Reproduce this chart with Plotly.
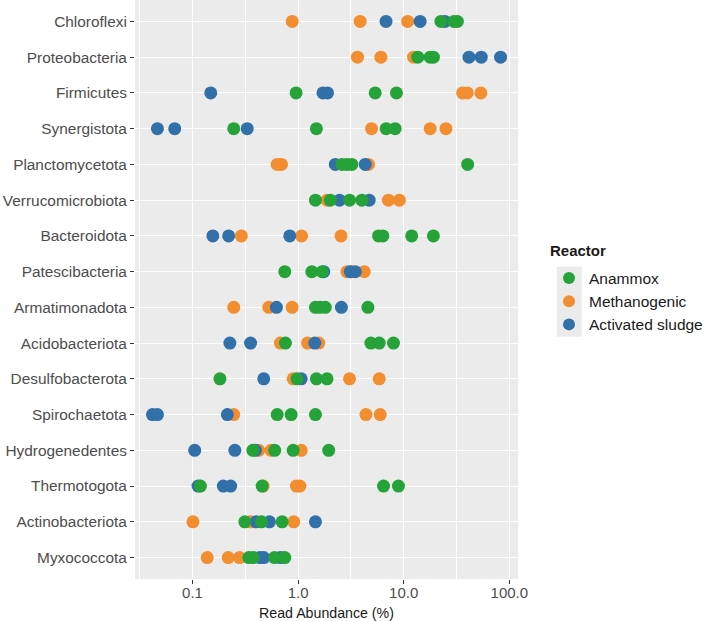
import plotly.graph_objects as go

phyla = ["Chloroflexi", "Proteobacteria", "Firmicutes", "Synergistota",
         "Planctomycetota", "Verrucomicrobiota", "Bacteroidota", "Patescibacteria",
         "Armatimonadota", "Acidobacteriota", "Desulfobacterota", "Spirochaetota",
         "Hydrogenedentes", "Thermotogota", "Actinobacteriota", "Myxococcota"]

anammox = [
    [22.5, 29.9, 32.2],
    [13.6, 17.8, 19.1],
    [0.957, 5.37, 8.54],
    [0.246, 1.49, 6.82, 8.30],
    [2.60, 2.90, 3.23, 40.3],
    [1.46, 2.02, 3.07, 4.02],
    [5.77, 6.35, 11.9, 19.1],
    [0.748, 1.35, 1.69],
    [1.46, 1.62, 1.81, 4.58],
    [0.759, 4.89, 5.86, 8.00],
    [0.182, 0.978, 1.49, 1.88],
    [0.634, 0.859, 1.46],
    [0.373, 0.601, 0.898, 1.95],
    [0.119, 0.457, 6.44, 8.91],
    [0.313, 0.450, 0.706],
    [0.342, 0.376, 0.598, 0.748],
]

methanogenic = [
    [0.88, 3.87, 10.9],
    [3.65, 6.08, 12.4],
    [36.1, 40.0, 53.8],
    [4.96, 17.8, 25.1],
    [0.634, 0.696, 4.64],
    [1.88, 7.16, 9.10],
    [0.290, 1.08, 2.55],
    [2.90, 3.2, 4.23],
    [0.246, 0.528, 0.878],
    [0.680, 1.23, 1.57],
    [0.898, 3.07, 5.86],
    [0.246, 4.39, 5.99],
    [0.424, 0.556, 1.07],
    [0.467, 0.964, 1.04],
    [0.101, 0.355, 0.910],
    [0.138, 0.218, 0.279],
]

activated = [
    [6.8, 14.3, 24.6],
    [41.5, 54.2, 82.6],
    [0.149, 1.72, 1.90],
    [0.0466, 0.0679, 0.330],
    [2.25, 4.32],
    [2.47, 4.71],
    [0.156, 0.220, 0.834],
    [1.75, 3.12, 3.48],
    [0.624, 2.57],
    [0.226, 0.355, 1.44],
    [0.473, 1.07],
    [0.0418, 0.0466, 0.214],
    [0.105, 0.252, 0.395],
    [0.113, 0.196, 0.230],
    [0.401, 0.536, 1.46],
    [0.434, 0.473, 0.680],
]

reactors = ["Anammox", "Methanogenic", "Activated sludge"]
colors = ["#26A338", "#F28E30", "#3170A8"]
x_ticks = [0.1, 1, 10, 100]
x_ticktext = ["0.1", "1.0", "10.0", "100.0"]

FONT = "Liberation Sans, Arial, sans-serif"

W, H = 708, 621
ML, MR, MT, MB = 135, 190, 0, 42
PW, PH = W - ML - MR, H - MT - MB


def flatten(vals):
    xs, ys = [], []
    for ph, v in zip(phyla, vals):
        for val in v:
            xs.append(val)
            ys.append(ph)
    return xs, ys


def px_x(p):
    return (p - ML) / PW


def px_y(p):
    return 1 - (p - MT) / PH


fig = go.Figure()
series = {"Anammox": anammox, "Methanogenic": methanogenic, "Activated sludge": activated}
draw_order = ["Methanogenic", "Activated sludge", "Anammox"]
for name in draw_order:
    i = reactors.index(name)
    xs, ys = flatten(series[name])
    fig.add_trace(go.Scatter(
        x=xs, y=ys, mode="markers", name=name, legendrank=i + 1,
        marker=dict(size=13, color=colors[i], line=dict(width=0)),
    ))

minor_vals = [10 ** -1.5, 10 ** -0.5, 10 ** 0.5, 10 ** 1.5]

fig.update_layout(
    width=W, height=H,
    margin=dict(l=ML, r=MR, t=MT, b=MB),
    paper_bgcolor="white", plot_bgcolor="#EBEBEB",
    font=dict(family=FONT, color="#4D4D4D"),
    showlegend=True,
    legend=dict(
        font=dict(size=15.5, color="#1A1A1A"),
        xref="container", yref="container",
        x=549 / W, y=1 - 261.5 / H, xanchor="left", yanchor="top",
        bgcolor="rgba(0,0,0,0)", tracegroupgap=0, itemsizing="constant",
    ),
    shapes=[dict(type="rect", xref="paper", yref="paper",
                 x0=px_x(556.7), x1=px_x(581.7), y0=px_y(336.7), y1=px_y(266.7),
                 fillcolor="#EBEBEB", line=dict(width=0), layer="below")],
    annotations=[dict(text="<b>Reactor</b>", xref="paper", yref="paper",
                      x=px_x(548), y=px_y(250), xanchor="left", yanchor="middle",
                      showarrow=False, font=dict(size=15, color="#1A1A1A", family=FONT))],
    xaxis=dict(
        type="log", range=[-1.544, 2.082],
        tickvals=x_ticks, ticktext=x_ticktext,
        tickfont=dict(size=15, color="#4D4D4D"),
        ticks="outside", ticklen=4, tickcolor="#333333", tickwidth=1,
        ticklabelstandoff=-4,
        showgrid=True, gridcolor="white", gridwidth=1.4,
        minor=dict(tickvals=minor_vals, showgrid=True, gridcolor="white", gridwidth=0.7, ticks=""),
        zeroline=False, showline=False,
        title=dict(text="Read Abundance (%)", font=dict(size=14.2, color="#1A1A1A"), standoff=8),
    ),
    yaxis=dict(
        type="category", categoryorder="array", categoryarray=phyla[::-1],
        range=[-0.6, 15.6],
        tickfont=dict(size=15.4, color="#4D4D4D"),
        ticks="outside", ticklen=4, tickcolor="#333333", tickwidth=1,
        showgrid=True, gridcolor="white", gridwidth=1.4,
        zeroline=False, showline=False,
    ),
)

fig.write_html("out.html", config={"displayModeBar": False},
               post_script="document.body.style.margin='0';document.body.style.overflow='hidden';")
